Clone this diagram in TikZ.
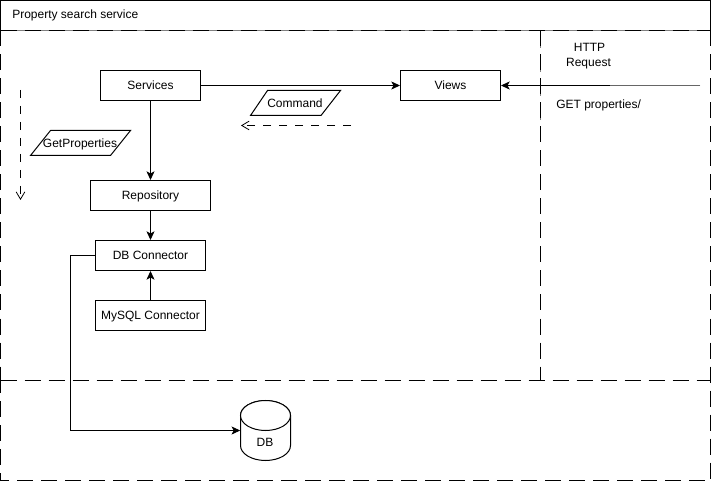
\documentclass[tikz,border=0pt]{standalone}
\usepackage{fontspec}
\setmainfont{Liberation Sans}
\usetikzlibrary{arrows.meta}
\tikzset{
  x=0.75pt,y=-0.75pt,
  every node/.style={font=\fontsize{9}{11}\selectfont,text=black,inner sep=0pt},
  fixtext/.style={text height=6.9pt,text depth=1.5pt},
  box/.style={draw=black,line width=0.75pt,minimum height=22.5pt,fill=white,fixtext},
  label/.style={align=center,fixtext},
  outline/.style={black,line width=0.75pt},
  conn/.style={draw=black,line width=0.75pt,-{Stealth[length=6.5pt,width=6pt,inset=1.6pt]}},
  dashconn/.style={draw=black,line width=0.75pt,dash pattern=on 6pt off 6pt,-{Straight Barb[length=5.5pt,width=6.5pt,line width=0.6pt]}},
  zone/.style={draw=black,line width=0.75pt,dash pattern=on 12pt off 6pt},
  under/.style={draw=black!50,line width=0.75pt},
}
\begin{document}
\begin{tikzpicture}
\useasboundingbox (0,0) rectangle (711,481);
\draw[outline] (0.5,30.5) -- (0.5,0.5) -- (710.5,0.5) -- (710.5,30.5);
\draw[under] (0.5,30.5) -- (710.5,30.5);
\draw[under,dash pattern=on 5pt off 13pt,dash phase=-8pt] (540.5,30.5) -- (540.5,140);
\draw[zone] (0.5,30.5) -- (710.5,30.5);
\draw[zone] (710.5,30.5) -- (710.5,380.5);
\draw[zone] (0.5,30.5) -- (0.5,380.5);
\draw[zone] (0.5,380.5) -- (710.5,380.5) -- (710.5,480.5) -- (0.5,480.5) -- (0.5,380.5);
\draw[zone] (540.5,30.5) -- (540.5,380.5);
\node[anchor=west,fixtext] (title) at (12,15) {Property search service};

\node[box,minimum width=75pt] (services) at (150.5,85.5) {Services};
\node[box,minimum width=75pt] (views) at (450.5,85.5) {Views};
\node[box,minimum width=90pt] (repo) at (150.5,195.5) {Repository};
\node[box,minimum width=82.5pt] (dbc) at (150.5,255.5) {DB Connector};
\node[box,minimum width=82.5pt] (mysql) at (150.5,315.5) {MySQL Connector};

\draw[outline,fill=white] (267.5,90.5) -- (340.5,90.5) -- (321,115.5) -- (250.5,115.5) -- cycle;
\node[fixtext] (command) at (295,104) {Command};
\draw[outline,fill=white] (50.5,130.5) -- (130.5,130.5) -- (110.5,155.5) -- (30.5,155.5) -- cycle;
\node[fixtext] (getprops) at (80,144) {GetProperties};

\node[minimum width=37.5pt,minimum height=45pt] (db) at (265.5,430.5) {};
\draw[outline,fill=white] (240.5,415.5) -- (240.5,445.5) arc[start angle=180,end angle=360,x radius=25,y radius=-15] -- (290.5,415.5) arc[start angle=0,end angle=180,x radius=25,y radius=-15];
\draw[outline,fill=white] (240.5,415.5) arc[start angle=180,end angle=360,x radius=25,y radius=-15] arc[start angle=0,end angle=180,x radius=25,y radius=-15] -- cycle;
\node[fixtext] (dblabel) at (265,443) {DB};

\node[label] (http) at (589.5,47.5) {HTTP};
\node[label] (request) at (588.5,62.5) {Request};
\node[anchor=west,fixtext] (get) at (556,105) {GET properties/};

\coordinate (reqstart) at (700,85.5);
\coordinate (reqfade) at (610,85.5);
\coordinate (dashAs) at (20.5,90);
\coordinate (dashAe) at (20.5,200);
\coordinate (dashBs) at (351,125.5);
\coordinate (dashBe) at (241,125.5);

\draw[conn] (services) -- (views);
\draw[conn] (reqstart) -- (views);
\draw[black!60,line width=1.1pt] (reqstart) -- (reqfade);
\draw[conn] (services) -- (repo);
\draw[conn] (repo) -- (dbc);
\draw[conn] (mysql) -- (dbc);
\draw[conn] (dbc.west) -- (70.5,255.5) -- (70.5,430.5) -- (db.west);
\draw[dashconn] (dashAs) -- (dashAe);
\draw[dashconn] (dashBs) -- (dashBe);
\end{tikzpicture}
\end{document}
